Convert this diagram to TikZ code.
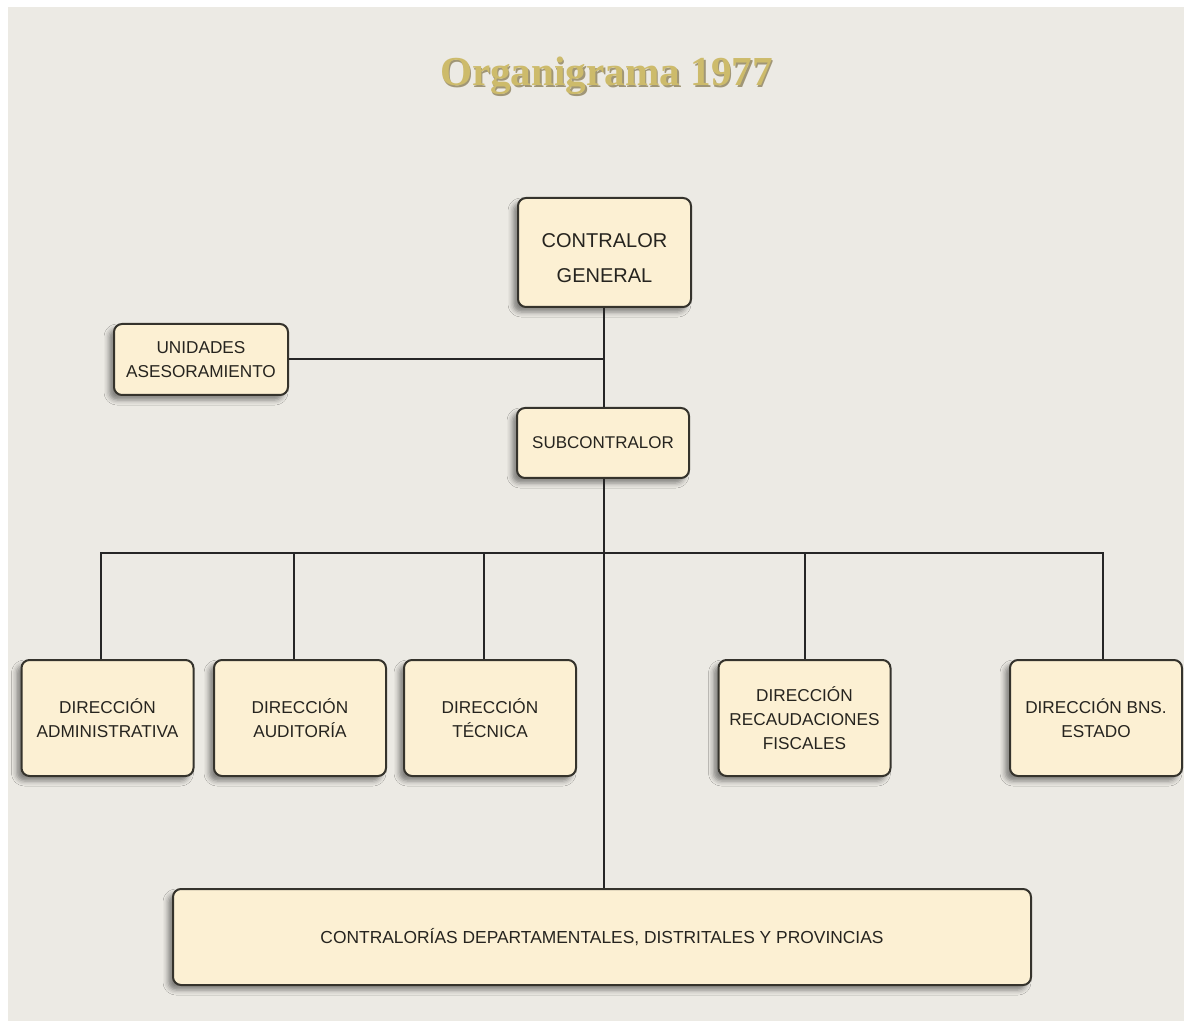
\documentclass[tikz,border=0pt]{standalone}
\usepackage{fontspec}
\setmainfont{Liberation Sans}
\newfontfamily\titlefont{Liberation Serif}
\usetikzlibrary{shadows.blur}
\definecolor{paper}{HTML}{ECEAE4}
\definecolor{boxfill}{HTML}{FCF0D3}
\definecolor{boxline}{HTML}{35332C}
\definecolor{boxtext}{HTML}{26241F}
\definecolor{gold}{HTML}{CDBB6B}
\definecolor{goldshade}{HTML}{6E5E2E}
\tikzset{
  orgbox/.style={draw=boxline, line width=1pt, fill=boxfill, rounded corners=4pt,
    text=boxtext, align=center, inner sep=2pt,
    blur shadow={shadow xshift=-2.5pt, shadow yshift=-2.5pt, shadow blur radius=2.5pt, shadow opacity=45}},
  link/.style={draw=black!85, line width=1pt},
  titletext/.style={font=\titlefont\bfseries\fontsize{20.6}{24}\selectfont},
}
\begin{document}
\begin{tikzpicture}[x=0.5pt, y=-0.5pt]
  % page and paper
  \fill[white] (0,0) rectangle (1184,1021);
  \fill[paper] (8,7) rectangle (1184,1021);
  \useasboundingbox (0,0) rectangle (1184,1021);

  % title with a soft shade behind it
  \node[titletext, text=goldshade, opacity=0.6] at (608,77.5) {Organigrama 1977};
  \node (title) [titletext, text=gold] at (606.5,76) {Organigrama 1977};

  % top level
  \node (cg) [orgbox, minimum width=86.5pt, minimum height=54.5pt,
    font=\fontsize{10}{17.5}\selectfont, text height=30pt] at (604.5,252.5) {CONTRALOR\\GENERAL};
  \node (ua) [orgbox, minimum width=87pt, minimum height=35.5pt,
    font=\fontsize{8.6}{12}\selectfont] at (201,359.5) {UNIDADES\\ASESORAMIENTO};
  \node (sub) [orgbox, minimum width=86pt, minimum height=35pt,
    font=\fontsize{8.5}{12}\selectfont] at (603,443) {SUBCONTRALOR};

  % directorates
  \tikzset{dirbox/.style={orgbox, minimum width=86pt, minimum height=58pt,
    font=\fontsize{8.6}{12}\selectfont}}
  \node (da) [dirbox] at (107.5,718) {DIRECCIÓN\\ADMINISTRATIVA};
  \node (dau) [dirbox] at (300,718) {DIRECCIÓN\\AUDITORÍA};
  \node (dt) [dirbox] at (490,718) {DIRECCIÓN\\TÉCNICA};
  \node (drf) [dirbox] at (804.5,718) {DIRECCIÓN\\RECAUDACIONES\\FISCALES};
  \node (dbe) [dirbox] at (1096,718) {DIRECCIÓN BNS.\\ESTADO};

  % regional offices
  \node (cdp) [orgbox, minimum width=429pt, minimum height=48pt,
    font=\fontsize{8.7}{12}\selectfont] at (602,937)
    {CONTRALORÍAS DEPARTAMENTALES, DISTRITALES Y PROVINCIAS};

  % connectors
  \coordinate (bus) at (604,553);
  \draw[link] ([xshift=-0.25pt]cg.south) -- ([xshift=-0.25pt]cg.south |- sub.north);
  \draw[link] (ua.east) -- ([xshift=-0.25pt]ua.east -| cg.south);
  \draw[link] ([xshift=0.5pt]sub.south) -- ([xshift=0.5pt]sub.south |- cdp.north);
  \draw[link] ([xshift=-3.25pt]da.north) |- ([xshift=3.5pt]dbe.north |- bus) -- ([xshift=3.5pt]dbe.north);
  \draw[link] ([xshift=-3pt]dau.north) -- ([xshift=-3pt]dau.north |- bus);
  \draw[link] ([xshift=-3pt]dt.north) -- ([xshift=-3pt]dt.north |- bus);
  \draw[link] (drf.north) -- (drf.north |- bus);
\end{tikzpicture}
\end{document}
